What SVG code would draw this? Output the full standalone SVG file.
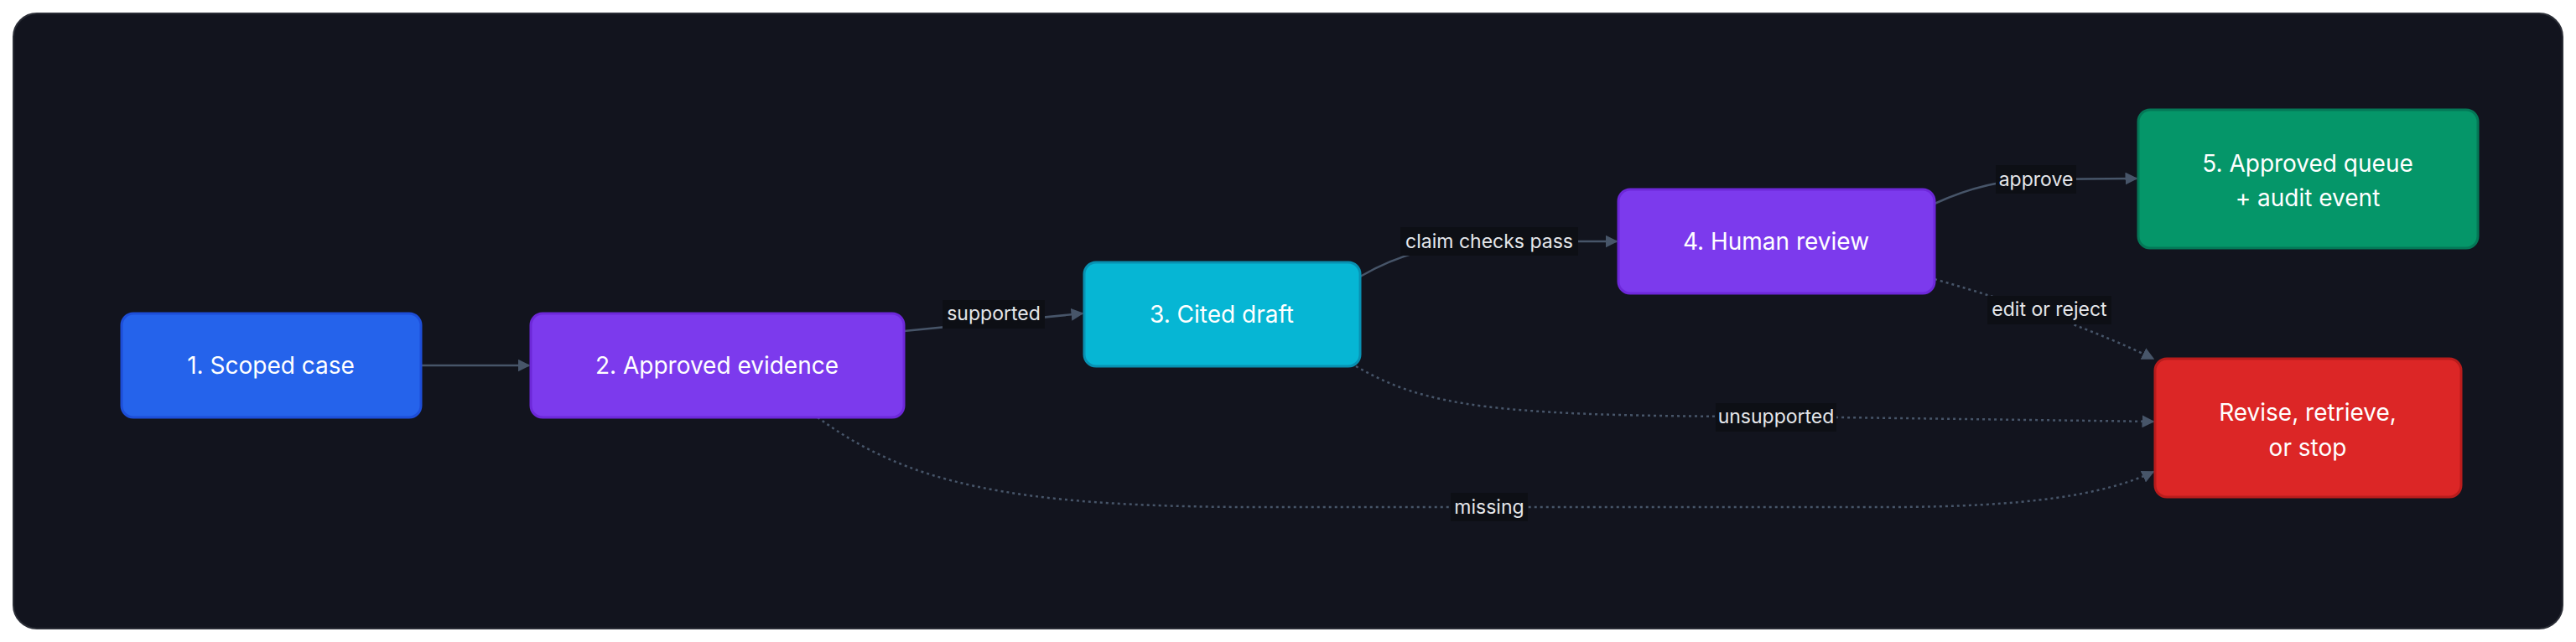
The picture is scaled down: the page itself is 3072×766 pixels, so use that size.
<svg xmlns="http://www.w3.org/2000/svg" width="3072" height="766" viewBox="0 0 3072 766">
<defs>
<style>
.node rect{stroke-width:3}
.nt{font-family:Inter,"Liberation Sans",sans-serif;font-size:28px;fill:#fff;text-anchor:middle}
.e{fill:none;stroke:#475569;stroke-width:2.5}
.d{stroke-dasharray:3 4}
.lb{fill:#0d0f15}
.lt{font-family:Inter,"Liberation Sans",sans-serif;font-size:23px;fill:#e5e7eb;text-anchor:middle}
</style>
<marker id="ar" viewBox="0 0 10 10" refX="9" refY="5" markerWidth="6" markerHeight="6" orient="auto"><path d="M0,0 L10,5 L0,10 z" fill="#475569"/></marker>
</defs>
<rect x="0" y="0" width="3072" height="766" fill="#ffffff"/>
<rect x="16" y="16" width="3040" height="734" rx="28" fill="#12141e" stroke="#2a2d36" stroke-width="2"/>
<g id="connectors">
<path class="e" d="M502,436 L631,436" marker-end="url(#ar)"/>
<path class="e" d="M1078,395 L1291,374" marker-end="url(#ar)"/>
<path class="e" d="M1622,330 Q1690,290 1780,288 L1928,288" marker-end="url(#ar)"/>
<path class="e" d="M2307,243 Q2370,214 2430,214 L2548,213" marker-end="url(#ar)"/>
<path class="e d" d="M2307,333 Q2470,380 2568,428" marker-end="url(#ar)"/>
<path class="e d" d="M1617,437 C1700,485 1780,497 2118,497 L2568,503" marker-end="url(#ar)"/>
<path class="e d" d="M975,498 C1080,575 1200,605 1500,605 L2250,605 C2420,605 2510,590 2568,563" marker-end="url(#ar)"/>
<rect class="lb" x="1124" y="358" width="122" height="34"/><text class="lt" x="1185" y="382">supported</text>
<rect class="lb" x="1670" y="271" width="212" height="34"/><text class="lt" x="1776" y="296">claim checks pass</text>
<rect class="lb" x="2380" y="197" width="96" height="34"/><text class="lt" x="2428" y="222">approve</text>
<rect class="lb" x="2370" y="353" width="148" height="34"/><text class="lt" x="2444" y="377">edit or reject</text>
<rect class="lb" x="2046" y="481" width="144" height="34"/><text class="lt" x="2118" y="505">unsupported</text>
<rect class="lb" x="1730" y="588" width="92" height="34"/><text class="lt" x="1776" y="613">missing</text>
</g>
<g id="n1" class="node"><rect x="145" y="374" width="357" height="124" rx="14" fill="#2563eb" stroke="#1d4ed8"/><text class="nt" x="323" y="446">1. Scoped case</text></g>
<g id="n2" class="node"><rect x="633" y="374" width="445" height="124" rx="14" fill="#7c3aed" stroke="#6d28d9"/><text class="nt" x="855" y="446">2. Approved evidence</text></g>
<g id="n3" class="node"><rect x="1293" y="313" width="329" height="124" rx="14" fill="#06b6d4" stroke="#0891b2"/><text class="nt" x="1457" y="385">3. Cited draft</text></g>
<g id="n4" class="node"><rect x="1930" y="226" width="377" height="124" rx="14" fill="#7c3aed" stroke="#6d28d9"/><text class="nt" x="2118" y="298">4. Human review</text></g>
<g id="n5" class="node"><rect x="2550" y="131" width="405" height="165" rx="14" fill="#059669" stroke="#047857"/><text class="nt" x="2752" y="205">5. Approved queue</text><text class="nt" x="2752" y="246">+ audit event</text></g>
<g id="n6" class="node"><rect x="2570" y="428" width="365" height="165" rx="14" fill="#dc2626" stroke="#b91c1c"/><text class="nt" x="2752" y="502">Revise, retrieve,</text><text class="nt" x="2752" y="544">or stop</text></g>
</svg>
